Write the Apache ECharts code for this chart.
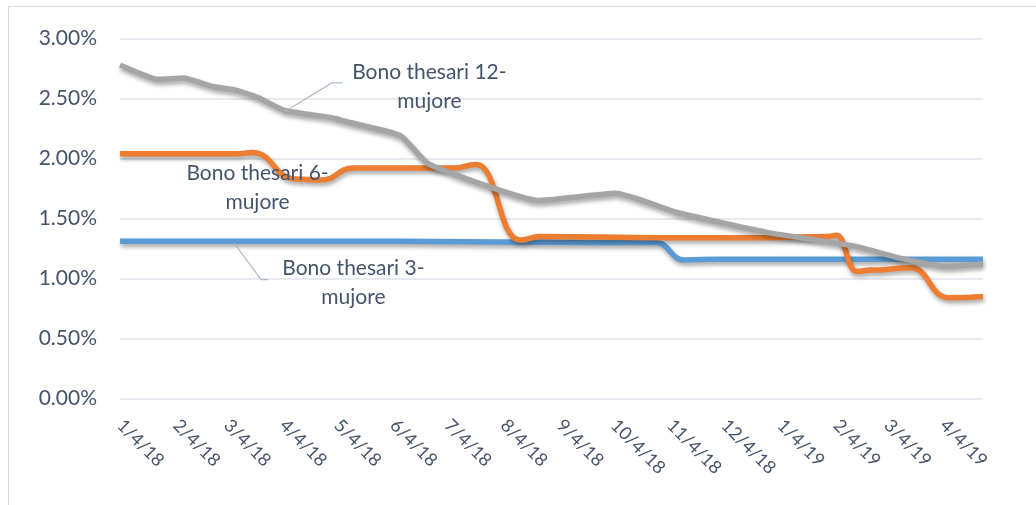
<!DOCTYPE html>
<html>
<head>
<meta charset="utf-8">
<script src="https://cdn.jsdelivr.net/npm/echarts@6/dist/echarts.min.js"></script>
<style>
html,body{margin:0;padding:0;background:#fff;overflow:hidden;}
#frame{position:absolute;left:8px;top:6px;width:1100px;height:600px;border:1px solid #d9d9d9;box-sizing:border-box;}
#chart{position:absolute;left:0;top:0;width:1036px;height:505px;}
</style>
</head>
<body>
<div id="frame"></div>
<div id="chart"></div>
<script>
// ---- data ----
const axisStart = '2018-01-04';
const axisEnd = '2019-04-26';
const tickDates = ['2018-01-04','2018-02-04','2018-03-04','2018-04-04','2018-05-04','2018-06-04','2018-07-04','2018-08-04','2018-09-04','2018-10-04','2018-11-04','2018-12-04','2019-01-04','2019-02-04','2019-03-04','2019-04-04'];
const tickLabels = ['1/4/18','2/4/18','3/4/18','4/4/18','5/4/18','6/4/18','7/4/18','8/4/18','9/4/18','10/4/18','11/4/18','12/4/18','1/4/19','2/4/19','3/4/19','4/4/19'];
const yTicks = [0, 0.5, 1.0, 1.5, 2.0, 2.5, 3.0];

const dates3m = ['2018-01-04','2018-06-08','2018-09-26','2018-10-27','2018-11-12','2018-11-30','2019-04-26'];
const values3m = [1.31, 1.31, 1.30, 1.30, 1.155, 1.16, 1.16];

const dates6m = ['2018-01-04','2018-02-06','2018-03-10','2018-03-18','2018-04-11','2018-04-25','2018-05-13','2018-07-07','2018-07-20','2018-08-13','2018-08-24','2018-10-31','2018-12-29','2019-01-30','2019-02-04','2019-02-15','2019-02-23','2019-03-17','2019-04-07','2019-04-26'];
const values6m = [2.04, 2.04, 2.04, 2.05, 1.83, 1.82, 1.92, 1.92, 1.95, 1.32, 1.35, 1.34, 1.34, 1.35, 1.36, 1.06, 1.07, 1.09, 0.84, 0.85];

const dates12m = ['2018-01-04','2018-01-25','2018-02-08','2018-02-24','2018-03-09','2018-03-21','2018-04-05','2018-05-01','2018-05-11','2018-06-08','2018-06-23','2018-07-26','2018-08-23','2018-10-05','2018-11-08','2018-12-07','2018-12-29','2019-02-14','2019-03-11','2019-04-06','2019-04-26'];
const values12m = [2.78, 2.66, 2.67, 2.60, 2.57, 2.51, 2.40, 2.34, 2.30, 2.19, 1.96, 1.77, 1.65, 1.71, 1.55, 1.45, 1.38, 1.27, 1.17, 1.10, 1.12];

const seriesNames = ['Bono thesari 3-mujore','Bono thesari 6-mujore','Bono thesari 12-mujore'];
const labelTexts = ['Bono thesari 3-\nmujore','Bono thesari 6-\nmujore','Bono thesari 12-\nmujore'];
// annotation anchors (date, value)
const labelAnchorDates = ['2018-05-13','2018-03-21','2018-06-24'];
const labelAnchorValues = [0.967, 1.754, 2.60];
const leader3Dates = ['2018-03-08','2018-03-23','2018-03-27'];
const leader3Values = [1.296, 0.99, 0.99];
const leader12Dates = ['2018-04-05','2018-05-01','2018-05-07'];
const leader12Values = [2.39, 2.63, 2.63];

// ---- helpers ----
const DAY = 86400000;
const t0 = Date.parse(axisStart + 'T00:00:00Z');
const dayOf = s => Math.round((Date.parse(s + 'T00:00:00Z') - t0) / DAY);
const pairs = (ds, vs) => ds.map((d, i) => [dayOf(d), vs[i]]);
const tickDays = tickDates.map(dayOf);
const labelByDay = {};
tickDays.forEach((d, i) => { labelByDay[d] = tickLabels[i]; });

const textColor = '#44546a';
const font = 'Lato, "Open Sans", sans-serif';

const chart = echarts.init(document.getElementById('chart'), null, {renderer: 'canvas'});
const lineShadow = {shadowColor: 'rgba(0,0,0,0.35)', shadowBlur: 4, shadowOffsetX: 1, shadowOffsetY: 3};

chart.setOption({
  animation: false,
  grid: {left: 120, right: 53, top: 38.5, bottom: 106.5, containLabel: false},
  xAxis: {
    type: 'value',
    min: 0,
    max: dayOf(axisEnd),
    axisLine: {show: false},
    axisTick: {show: false},
    splitLine: {show: false},
    axisLabel: {
      customValues: tickDays,
      rotate: -45,
      margin: 24,
      color: textColor,
      fontFamily: font,
      fontSize: 18,
      formatter: v => labelByDay[Math.round(v)] || ''
    }
  },
  yAxis: {
    type: 'value',
    min: yTicks[0],
    max: yTicks[yTicks.length - 1],
    interval: 0.5,
    axisLine: {show: false},
    axisTick: {show: false},
    splitLine: {lineStyle: {color: '#dfe3e8', width: 1.5}},
    axisLabel: {
      margin: 23,
      color: textColor,
      fontFamily: font,
      fontSize: 21,
      formatter: v => v.toFixed(2) + '%'
    }
  },
  series: [
    {name: seriesNames[0], type: 'line', data: pairs(dates3m, values3m), smooth: 0.5, smoothMonotone: 'x', showSymbol: false, symbol: 'none',
     lineStyle: Object.assign({color: '#5b9bd5', width: 5.5}, lineShadow)},
    {name: seriesNames[1], type: 'line', data: pairs(dates6m, values6m), smooth: 0.5, smoothMonotone: 'x', showSymbol: false, symbol: 'none',
     lineStyle: Object.assign({color: '#ed7d31', width: 5.5}, lineShadow)},
    {name: seriesNames[2], type: 'line', data: pairs(dates12m, values12m), smooth: 0.15, showSymbol: false, symbol: 'none',
     lineStyle: Object.assign({color: '#a5a5a5', width: 5.5}, lineShadow)}
  ]
});

const px = (d, v) => chart.convertToPixel({gridIndex: 0}, [dayOf(d), v]);
const graphics = [];
const leaders = [[leader3Dates, leader3Values], [leader12Dates, leader12Values]];
leaders.forEach(([ds, vs]) => {
  graphics.push({type: 'polyline', z: 100, shape: {points: ds.map((d, i) => px(d, vs[i]))},
    style: {stroke: '#adb9ca', lineWidth: 1.2, fill: null}});
});
labelTexts.forEach((t, i) => {
  const p = px(labelAnchorDates[i], labelAnchorValues[i]);
  graphics.push({type: 'text', z: 100, x: p[0], y: p[1],
    style: {text: t, font: '21px ' + font, fill: textColor, align: 'center', verticalAlign: 'middle', lineHeight: 29}});
});
chart.setOption({graphic: graphics});
</script>
</body>
</html>
